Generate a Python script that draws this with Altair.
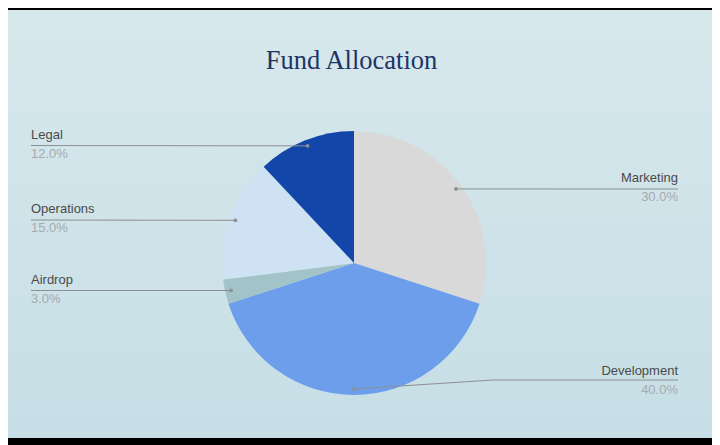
import math
import altair as alt
import pandas as pd

# ---- data ----
categories = ["Marketing", "Development", "Airdrop", "Operations", "Legal"]
values = [30.0, 40.0, 3.0, 15.0, 12.0]
colors = ["#d9d9d9", "#6d9eeb", "#a2c4c9", "#cfe2f3", "#1246a8"]
title_text = "Fund Allocation"

# ---- layout (chart pixel coordinates) ----
W, H = 704, 437
CX, CY, R = 346, 255, 132
DOT_R = 126
side = ["right", "right", "left", "left", "left"]
label_y = [174, 367, 276, 205, 131]         # label baseline
line_y = [181, 372, 282.5, 212, 137.5]      # leader horizontal level
PCT_OFF = 18.5
LEFT_X, RIGHT_X = 23, 670
ELBOW_X = 485

df = pd.DataFrame({"cat": categories, "val": values, "order": range(len(values))})

# annotation geometry computed from the data (mid angle of each slice)
total = sum(values)
rows = []
cum = 0.0
for i, (c, v) in enumerate(zip(categories, values)):
    mid = (cum + v / 2) / total * 2 * math.pi
    cum += v
    dx = CX + DOT_R * math.sin(mid)
    dy = CY - DOT_R * math.cos(mid)
    rows.append(dict(cat=c, pct=f"{v:.1f}%", side=side[i],
                     dx=dx, dy=dy, ly=line_y[i], ty=label_y[i]))
ann = pd.DataFrame(rows)

segs = []
for r in rows:
    if r["side"] == "left":
        segs.append(dict(x=r["dx"], y=r["dy"], x2=LEFT_X, y2=r["ly"]))
    else:
        if abs(r["dy"] - r["ly"]) > 2:
            segs.append(dict(x=r["dx"], y=r["dy"], x2=ELBOW_X, y2=r["ly"]))
            segs.append(dict(x=ELBOW_X, y=r["ly"], x2=RIGHT_X, y2=r["ly"]))
        else:
            segs.append(dict(x=r["dx"], y=r["dy"], x2=RIGHT_X, y2=r["ly"]))
seg_df = pd.DataFrame(segs)

bg = alt.Chart(pd.DataFrame({"a": [0]})).mark_rect(
    color=alt.Gradient(gradient="linear", x1=0, y1=0, x2=0, y2=1,
                       stops=[alt.GradientStop(color="#d7e8ec", offset=0),
                              alt.GradientStop(color="#c6dee6", offset=1)])
).encode(x=alt.value(0), x2=alt.value(W), y=alt.value(0), y2=alt.value(H))

bars = alt.Chart(pd.DataFrame({"y0": [0, 430], "y1": [2, 437]})).mark_rect(color="#000000").encode(
    x=alt.value(0), x2=alt.value(W),
    y=alt.Y("y0:Q", scale=None), y2="y1:Q")

pie = alt.Chart(df).mark_arc(outerRadius=R, stroke=None).encode(
    theta=alt.Theta("val:Q", stack=True),
    order=alt.Order("order:Q"),
    color=alt.Color("cat:N", scale=alt.Scale(domain=categories, range=colors), legend=None),
    x=alt.value(CX), y=alt.value(CY))

lines = alt.Chart(seg_df).mark_rule(color="#8c9093", strokeWidth=1).encode(
    x=alt.X("x:Q", scale=None), y=alt.Y("y:Q", scale=None),
    x2="x2:Q", y2="y2:Q")

dots = alt.Chart(ann).mark_circle(size=14, color="#8c9093", opacity=1).encode(
    x=alt.X("dx:Q", scale=None), y=alt.Y("dy:Q", scale=None))

left = ann[ann.side == "left"]
right = ann[ann.side == "right"]

def labels(d, xpos, align):
    name = alt.Chart(d).mark_text(align=align, baseline="alphabetic", fontSize=13,
                                  font="Liberation Sans", color="#4a4a4a").encode(
        x=alt.value(xpos), y=alt.Y("ty:Q", scale=None), text="cat:N")
    pct = alt.Chart(d).transform_calculate(py=f"datum.ty + {PCT_OFF}").mark_text(
        align=align, baseline="alphabetic", fontSize=13,
        font="Liberation Sans", color="#a6aaad").encode(
        x=alt.value(xpos), y=alt.Y("py:Q", scale=None), text="pct:N")
    return name + pct

title = alt.Chart(pd.DataFrame({"t": [title_text]})).mark_text(
    font="Liberation Serif", fontSize=26.5, color="#1b3566", align="center",
    baseline="alphabetic").encode(x=alt.value(343.5), y=alt.value(61), text="t:N")

chart = alt.layer(
    bg, bars, pie, lines, dots,
    labels(left, LEFT_X, "left"), labels(right, RIGHT_X, "right"), title
).properties(
    width=W, height=H,
    autosize=alt.AutoSizeParams(type="fit", contains="padding"),
    padding=0, background="#ffffff"
).configure_view(stroke=None)

chart.save("out.html", embed_options={"renderer": "svg", "actions": False})
